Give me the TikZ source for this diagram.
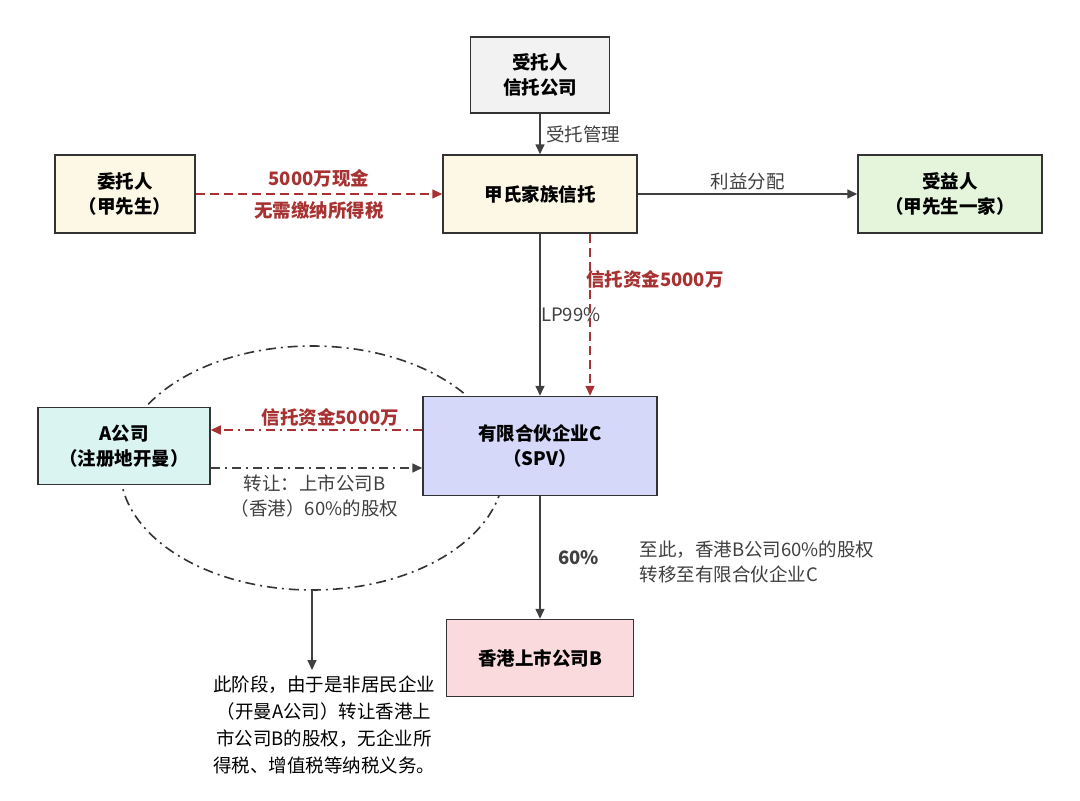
\documentclass[tikz,border=0pt]{standalone}
\usepackage{fontspec}
\setmainfont{Noto Sans CJK SC}
\usetikzlibrary{arrows.meta}
\definecolor{boxgray}{HTML}{F2F2F2}
\definecolor{boxyellow}{HTML}{FDF8E6}
\definecolor{boxgreen}{HTML}{E4F5DC}
\definecolor{boxcyan}{HTML}{DAF4F2}
\definecolor{boxblue}{HTML}{D6D8FA}
\definecolor{boxpink}{HTML}{FADADD}
\definecolor{darkred}{HTML}{A83232}
\tikzset{
  entity/.style={draw=black!80, line width=1.5pt, align=center, font=\fontsize{18.5}{25}\selectfont\bfseries, inner sep=0pt},
  flow/.style={-{Triangle[length=10pt,width=9pt]}, line width=1.6pt, black!75},
  money/.style={flow, darkred, dashed, dash pattern=on 9pt off 5pt},
  lbl/.style={font=\fontsize{18.5}{25}\selectfont, text=black!75, align=center},
  redlbl/.style={font=\fontsize{18.5}{25}\selectfont\bfseries, text=darkred}
}
\begin{document}
\begin{tikzpicture}[x=1pt,y=-1pt]
		\useasboundingbox[fill=white] (0,0) rectangle (1080,801);

		\draw[black!80, line width=1.6pt, dash pattern=on 10pt off 5pt on 2pt off 5pt] (312,468) ellipse (192pt and 122pt);
		\coordinate (ellbot) at (312,590);
		\coordinate (notetop) at (312,670);

		\node[entity, fill=boxgray, minimum width=139pt, minimum height=76pt] (trustee) at (540,75) {受托人\\信托公司};
		\node[entity, fill=boxyellow, minimum width=140pt, minimum height=78pt] (settlor) at (125,194) {委托人\\（甲先生）};
		\node[entity, fill=boxyellow, minimum width=194pt, minimum height=78pt] (trust) at (540,194) {甲氏家族信托};
		\node[entity, fill=boxgreen, minimum width=184pt, minimum height=78pt] (benef) at (950,194) {受益人\\（甲先生一家）};
		\node[entity, fill=boxcyan, minimum width=172pt, minimum height=77pt] (compA) at (124,446) {A公司\\（注册地开曼）};
		\node[entity, fill=boxblue, minimum width=234pt, minimum height=99pt] (spv) at (540,446) {有限合伙企业C\\（SPV）};
		\node[entity, fill=boxpink, minimum width=187pt, minimum height=77pt] (compB) at (540,658) {香港上市公司B};

		\draw[flow] (trustee) -- node[lbl, right, xshift=2pt] {受托管理} (trust);
		\draw[money] (settlor) -- node[redlbl, above=3pt] {5000万现金} node[redlbl, below=3pt] {无需缴纳所得税} (trust);
		\draw[flow] (trust) -- node[lbl, above] {利益分配} (benef);
		\draw[flow] (trust) -- node[lbl, pos=0.5, right, xshift=-3pt] {LP99\%} (spv);
		\draw[money] (trust.south -| 590,0) -- node[redlbl, pos=0.28, right, xshift=-8pt] {信托资金5000万} (spv.north -| 590,0);
		\draw[flow, darkred, dash pattern=on 9pt off 5pt on 2pt off 5pt] (spv.west |- 0,430) -- node[redlbl, above, xshift=14pt] {信托资金5000万} (compA.east |- 0,430);
		\draw[flow, dash pattern=on 9pt off 5pt on 2pt off 5pt] (compA.east |- 0,468) -- node[lbl, below=3pt, xshift=-2pt] {转让：上市公司B\\（香港）60\%的股权} (spv.west |- 0,468);
		\draw[flow] (spv) -- node[lbl, right, xshift=14pt, font=\fontsize{18.5}{25}\selectfont\bfseries] {60\%} (compB);
		\draw[flow] (ellbot) -- (notetop);

		\node[lbl, align=left, anchor=west] (note1) at (636,562) {至此，香港B公司60\%的股权\\转移至有限合伙企业C};
		\node[lbl, anchor=north, font=\fontsize{18.5}{27}\selectfont, text=black] (note2) at (324,672) {此阶段，由于是非居民企业\\（开曼A公司）转让香港上\\市公司B的股权，无企业所\\得税、增值税等纳税义务。};
\end{tikzpicture}
\end{document}
